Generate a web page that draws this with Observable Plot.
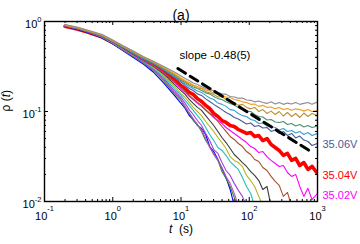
<!DOCTYPE html>
<html><head><meta charset="utf-8">
<script src="https://cdn.jsdelivr.net/npm/d3@7"></script>
<script src="https://cdn.jsdelivr.net/npm/@observablehq/plot@0.6"></script>
<style>html,body{margin:0;padding:0;background:#fff;}</style>
</head><body><div id="chart"></div>
<script>
// time grid (s)
const times = [0.2,0.3,0.45,0.7,1,1.4,2,2.8,4,5.6,8,10,11.5,13.2,15.1,17.4,20,23,26.3,30.2,34.7,39.8,45.7,52.5,60.3,69.2,79.4,91.2,105,120,138,158,182,209,240,275,316,363,417,479,550,631,724,832,1000];

// rho(t) series (top plateau to fastest decay)
const rhoGray = [0.926,0.869,0.794,0.717,0.623,0.541,0.470,0.408,0.359,0.316,0.275,0.248,0.233,0.221,0.207,0.200,0.190,0.180,0.173,0.171,0.163,0.157,0.155,0.147,0.145,0.140,0.141,0.134,0.133,0.128,0.131,0.126,0.123,0.128,0.121,0.126,0.120,0.124,0.121,0.126,0.120,0.123,0.126,0.120,0.128];
const rhoOrange = [0.914,0.858,0.784,0.708,0.615,0.534,0.464,0.403,0.355,0.308,0.264,0.236,0.221,0.210,0.197,0.190,0.182,0.173,0.169,0.161,0.158,0.151,0.145,0.143,0.136,0.133,0.128,0.126,0.120,0.121,0.114,0.117,0.111,0.112,0.107,0.111,0.105,0.108,0.103,0.107,0.105,0.101,0.105,0.100,0.103];
const rhoGolden = [0.903,0.847,0.774,0.699,0.607,0.528,0.458,0.398,0.350,0.304,0.258,0.230,0.215,0.202,0.195,0.182,0.180,0.167,0.161,0.155,0.145,0.147,0.136,0.129,0.126,0.117,0.120,0.111,0.107,0.111,0.100,0.105,0.095,0.101,0.0926,0.100,0.0891,0.0975,0.088,0.095,0.0858,0.0962,0.088,0.095,0.0903];
const rhoGrayGreen = [0.914,0.858,0.784,0.699,0.607,0.528,0.452,0.393,0.346,0.300,0.251,0.224,0.210,0.197,0.187,0.180,0.171,0.161,0.157,0.147,0.139,0.136,0.128,0.123,0.118,0.111,0.108,0.101,0.100,0.0926,0.088,0.0869,0.0805,0.0815,0.0765,0.0755,0.0774,0.0717,0.0736,0.069,0.0717,0.0672,0.0699,0.0664,0.069];
const rhoSteel = [0.903,0.847,0.774,0.690,0.600,0.521,0.447,0.388,0.341,0.293,0.245,0.218,0.202,0.190,0.180,0.169,0.163,0.151,0.141,0.136,0.124,0.120,0.114,0.105,0.103,0.095,0.090,0.088,0.0815,0.0794,0.0736,0.0745,0.069,0.0681,0.0664,0.0623,0.0647,0.060,0.0615,0.0577,0.060,0.0555,0.0584,0.0541,0.057];
const rho3506 = [0.903,0.836,0.765,0.681,0.592,0.514,0.441,0.383,0.337,0.289,0.239,0.213,0.194,0.180,0.171,0.157,0.151,0.138,0.129,0.120,0.112,0.105,0.0975,0.0926,0.0858,0.0825,0.0774,0.0726,0.0745,0.0681,0.0699,0.0656,0.0664,0.060,0.0623,0.057,0.060,0.0541,0.057,0.0508,0.0534,0.0482,0.0464,0.0419,0.0441];
const rho3504 = [0.885,0.826,0.755,0.672,0.584,0.508,0.436,0.376,0.329,0.278,0.227,0.194,0.180,0.163,0.155,0.139,0.129,0.117,0.108,0.095,0.088,0.0794,0.0755,0.0699,0.0681,0.0631,0.060,0.057,0.0584,0.0528,0.0541,0.0476,0.0501,0.043,0.0398,0.0369,0.0325,0.0342,0.0286,0.0301,0.0251,0.0271,0.0227,0.0245,0.0205];
const rhoBrown = [0.903,0.847,0.774,0.690,0.600,0.514,0.441,0.378,0.324,0.271,0.215,0.185,0.167,0.151,0.139,0.126,0.117,0.105,0.095,0.088,0.0774,0.0681,0.060,0.0528,0.0489,0.0441,0.0408,0.0359,0.0333,0.0293,0.0278,0.0239,0.0221,0.019,0.0167,0.0151,0.0114,0.0126,0.0088];
const rho3502 = [0.891,0.836,0.765,0.681,0.592,0.514,0.436,0.373,0.320,0.268,0.210,0.180,0.163,0.147,0.136,0.123,0.114,0.103,0.095,0.0858,0.0794,0.0736,0.0664,0.0615,0.057,0.0528,0.0489,0.0452,0.0408,0.0388,0.035,0.0359,0.0316,0.0286,0.0264,0.0245,0.0251,0.021,0.019,0.020,0.0147,0.0114,0.014,0.0105,0.0123];
const rhoDarkGray = [0.903,0.847,0.774,0.681,0.592,0.508,0.430,0.369,0.316,0.261,0.200,0.171,0.155,0.136,0.123,0.111,0.103,0.090,0.0794,0.0699,0.060,0.0514,0.0452,0.0388,0.0333,0.0301,0.0271,0.0245,0.0215,0.0195,0.0171,0.0136,0.0147,0.0088];
const rhoOlive = [0.891,0.836,0.765,0.672,0.584,0.501,0.425,0.365,0.308,0.251,0.190,0.158,0.143,0.126,0.111,0.100,0.090,0.0774,0.0681,0.060,0.0514,0.0452,0.0388,0.0316,0.0286,0.0271,0.0245,0.0195,0.0171,0.0147,0.0114,0.009];
const rhoCyan = [0.903,0.847,0.774,0.681,0.584,0.501,0.425,0.359,0.300,0.242,0.180,0.151,0.133,0.117,0.103,0.090,0.0794,0.0664,0.0555,0.0476,0.0398,0.0369,0.0325,0.0278,0.0251,0.0227,0.0185,0.0147,0.0123,0.0088];
const rhoPurple = [0.891,0.836,0.765,0.672,0.584,0.495,0.419,0.355,0.293,0.233,0.171,0.143,0.123,0.105,0.0926,0.0794,0.0699,0.057,0.0476,0.0378,0.0342,0.0271,0.0221,0.0195,0.0159,0.0133,0.0114,0.0088];
const rhoViolet = [0.903,0.836,0.765,0.672,0.577,0.489,0.414,0.350,0.286,0.224,0.163,0.136,0.114,0.0975,0.0836,0.0717,0.0631,0.0501,0.0398,0.0342,0.0286,0.0239,0.019,0.0159,0.0123,0.009];
const rhoGreen = [0.891,0.825,0.755,0.664,0.570,0.482,0.408,0.346,0.282,0.218,0.158,0.133,0.111,0.095,0.0794,0.0717,0.060,0.0476,0.0408,0.0333,0.0286,0.0215,0.018,0.0147,0.0111,0.0086];
const rhoBlue = [0.880,0.815,0.745,0.656,0.562,0.476,0.398,0.337,0.271,0.207,0.151,0.123,0.108,0.0903,0.0815,0.0699,0.0647,0.0555,0.0408,0.0359,0.0293,0.0233,0.0185,0.0136,0.009];

// fitted slope guide line
const slopeT = [9, 750];
const slopeRho = [0.30, 0.037];
const slopeText = "slope -0.48(5)";

// curve labels
const labelNames = ["35.06V", "35.04V", "35.02V"];
const labelRho = [0.0433, 0.0193, 0.0117];

// axis ticks
const xMajor = [0.1, 1, 10, 100, 1000];
const yMajor = [0.01, 0.1, 1];

// styles (kept apart from the data); drawing order: red first, then fastest to slowest decay
const seriesList = [
  {values: rho3504, color: "#ff0000", width: 3.6},
  {values: rhoBlue, color: "#0000ff"},
  {values: rhoGreen, color: "#2e8b3a"},
  {values: rhoViolet, color: "#c050c0"},
  {values: rhoPurple, color: "#9b45d8"},
  {values: rhoCyan, color: "#22c0c0"},
  {values: rhoOlive, color: "#b5b520"},
  {values: rhoDarkGray, color: "#3c3c3c"},
  {values: rho3502, color: "#ff00ff"},
  {values: rhoBrown, color: "#a0522d"},
  {values: rho3506, color: "#4a5a9a"},
  {values: rhoSteel, color: "#3a9fd6"},
  {values: rhoGrayGreen, color: "#4f8f6f"},
  {values: rhoGolden, color: "#b8923a"},
  {values: rhoOrange, color: "#f39c1a"},
  {values: rhoGray, color: "#8c8c8c"}
];
const labelColors = ["#4a5a9a", "#ff0000", "#ff00ff"];
const FONT = "'Liberation Sans', Arial, sans-serif";

const lineMarks = seriesList.map(s =>
  Plot.line(s.values.map((v, i) => ({t: times[i], rho: v})),
    {x: "t", y: "rho", stroke: s.color, strokeWidth: s.width || 1.1, clip: true}));

const xMinor = xMajor.slice(0, -1).flatMap(d => [2,3,4,5,6,7,8,9].map(m => d * m));
const yMinor = yMajor.slice(0, -1).flatMap(d => [2,3,4,5,6,7,8,9].map(m => d * m));
const FH = 180, FW = 273;

const chart = Plot.plot({
  width: 360, height: 244,
  marginLeft: 44, marginRight: 43, marginTop: 21, marginBottom: 43,
  style: {fontFamily: FONT, fontSize: "11px", background: "white", color: "black"},
  x: {type: "log", domain: [0.1, 1000]},
  y: {type: "log", domain: [0.01, 1]},
  marks: [
    ...lineMarks,
    Plot.line(slopeT.map((t, i) => ({t, rho: slopeRho[i]})), {x: "t", y: "rho", stroke: "black", strokeWidth: 3, strokeDasharray: "9,5.5"}),
    // inner ticks
    Plot.tickX(xMinor, {x: d => d, insetTop: FH - 2, stroke: "black"}),
    Plot.tickX(xMinor, {x: d => d, insetBottom: FH - 2, stroke: "black"}),
    Plot.tickX(xMajor, {x: d => d, insetTop: FH - 4, stroke: "black"}),
    Plot.tickX(xMajor, {x: d => d, insetBottom: FH - 4, stroke: "black"}),
    Plot.tickY(yMinor, {y: d => d, insetRight: FW - 2, stroke: "black"}),
    Plot.tickY(yMinor, {y: d => d, insetLeft: FW - 2, stroke: "black"}),
    Plot.tickY(yMajor, {y: d => d, insetRight: FW - 4, stroke: "black"}),
    Plot.tickY(yMajor, {y: d => d, insetLeft: FW - 4, stroke: "black"}),
    Plot.frame({stroke: "black", strokeWidth: 1.4}),
    Plot.axisX({ticks: xMajor, tickSize: 0, tickPadding: 11, fontSize: 11, label: null,
      tickFormat: d => "10^" + Math.round(Math.log10(d))}),
    Plot.axisY({ticks: yMajor, tickSize: 0, tickPadding: 3, dy: 3, fontSize: 11, label: null,
      tickFormat: d => "10^" + Math.round(Math.log10(d))}),
    Plot.text([slopeText], {x: () => 9.5, y: () => 0.42, textAnchor: "start", fontSize: 11.5, fill: "black"}),
    Plot.text(labelNames, {x: () => 1000, y: (d, i) => labelRho[i], dx: 5, textAnchor: "start", fontSize: 11, fill: (d, i) => labelColors[i]}),
    Plot.text(["_t_\u00a0 (s)"], {frameAnchor: "bottom", dy: 31, fontSize: 12, fill: "black"}),
    Plot.text(["ρ (_t_)"], {frameAnchor: "left", dx: -38, rotate: -90, fontSize: 12, fill: "black"}),
    Plot.text(["(a)"], {frameAnchor: "top", dy: -11, fontSize: 14, fill: "black"})
  ]
});

// rich text: superscripts (^) and italics (_..._)
const NS = "http://www.w3.org/2000/svg";
function richify(root, raise) {
  root.querySelectorAll("text").forEach(el => {
    const s = el.textContent;
    if (s.includes("^")) {
      const [b, e] = s.split("^");
      while (el.firstChild) el.removeChild(el.firstChild);
      const t1 = document.createElementNS(NS, "tspan"); t1.textContent = b; el.appendChild(t1);
      const t2 = document.createElementNS(NS, "tspan"); t2.textContent = e;
      t2.setAttribute("dy", -raise); t2.setAttribute("font-size", "7.5"); el.appendChild(t2);
    } else if (s.includes("_")) {
      while (el.firstChild) el.removeChild(el.firstChild);
      s.split("_").forEach((part, i) => {
        if (!part) return;
        const t = document.createElementNS(NS, "tspan"); t.textContent = part;
        if (i % 2) t.setAttribute("font-style", "italic");
        el.appendChild(t);
      });
    }
  });
}
document.getElementById("chart").appendChild(chart);
chart.querySelectorAll('g[aria-label="x-axis tick label"]').forEach(g => richify(g, 9));
chart.querySelectorAll('g[aria-label="y-axis tick label"]').forEach(g => richify(g, 6.5));
richify(chart, 6);
</script>
</body></html>
